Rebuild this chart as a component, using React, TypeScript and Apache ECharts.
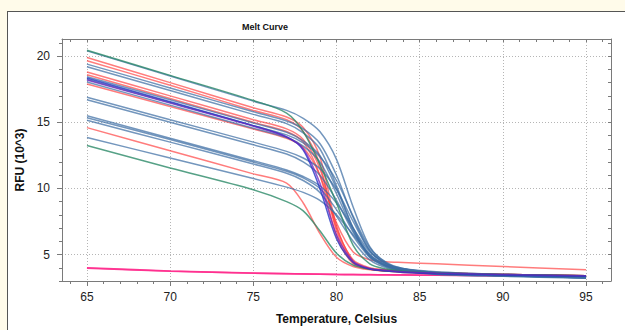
import React, { useEffect, useRef } from "react";
import * as echarts from "echarts";

// Temperatures (°C) at which each curve is sampled
const temps = [65, 70, 75, 77, 78, 79, 80, 81, 82, 83, 84, 86, 90, 95];

// Axis ticks
const xMajorTicks = [65, 70, 75, 80, 85, 90, 95];
const xMinorTicks = [64, 65, 66, 67, 68, 69, 70, 71, 72, 73, 74, 75, 76, 77, 78, 79, 80, 81, 82, 83, 84, 85, 86, 87, 88, 89, 90, 91, 92, 93, 94, 95, 96];
const yMajorTicks = [5, 10, 15, 20];
const yMinorTicks = [3, 4, 5, 6, 7, 8, 9, 10, 11, 12, 13, 14, 15, 16, 17, 18, 19, 20, 21];

// RFU (10^3) values per well
const pink1 = [4.0, 3.76, 3.6, 3.56, 3.54, 3.52, 3.5, 3.49, 3.48, 3.47, 3.46, 3.44, 3.4, 3.35];
const pink2 = [3.96, 3.74, 3.59, 3.55, 3.53, 3.51, 3.49, 3.48, 3.47, 3.46, 3.45, 3.43, 3.39, 3.33];

const red1 = [19.9, 18.0, 16.1, 15.4, 14.6, 12.4, 7.2, 4.5, 3.95, 3.8, 3.7, 3.6, 3.5, 3.4];
const red2 = [19.65, 17.8, 15.9, 15.2, 14.3, 11.8, 6.8, 4.4, 3.9, 3.75, 3.65, 3.55, 3.45, 3.35];
const red3 = [18.8, 17.0, 15.2, 14.5, 13.7, 11.5, 7.0, 4.6, 4.0, 3.85, 3.75, 3.65, 3.5, 3.4];
const red4 = [18.6, 16.8, 15.0, 14.3, 13.5, 11.0, 6.4, 4.3, 3.9, 3.8, 3.7, 3.6, 3.5, 3.4];
const red5 = [17.9, 16.2, 14.5, 13.8, 13.1, 11.0, 7.4, 5.2, 4.6, 4.45, 4.4, 4.3, 4.1, 3.85];
const red6 = [14.6, 12.85, 11.1, 10.4, 8.9, 6.6, 4.8, 4.1, 3.85, 3.75, 3.7, 3.6, 3.5, 3.4];

const blue1 = [20.4, 18.5, 16.6, 15.9, 15.3, 14.3, 12.2, 8.6, 5.6, 4.35, 3.95, 3.7, 3.5, 3.35];
const blue2 = [19.4, 17.6, 15.8, 15.1, 14.5, 13.4, 11.0, 7.8, 5.3, 4.3, 3.9, 3.65, 3.45, 3.3];
const blue3 = [19.2, 17.4, 15.6, 14.9, 14.2, 13.0, 10.2, 7.0, 4.9, 4.15, 3.85, 3.6, 3.4, 3.25];
const blue4 = [18.45, 16.7, 14.95, 14.25, 13.6, 12.5, 10.0, 7.0, 5.0, 4.2, 3.85, 3.6, 3.4, 3.25];
const blue5 = [18.25, 16.5, 14.75, 14.05, 13.45, 12.4, 10.6, 7.9, 5.5, 4.4, 3.95, 3.65, 3.45, 3.3];
const blue6 = [18.05, 16.3, 14.55, 13.85, 13.2, 12.0, 9.6, 6.8, 4.8, 4.1, 3.8, 3.55, 3.4, 3.25];
const blue7 = [16.9, 15.2, 13.5, 12.8, 12.3, 11.5, 9.9, 7.5, 5.3, 4.3, 3.9, 3.6, 3.45, 3.3];
const blue8 = [16.7, 15.0, 13.3, 12.6, 12.0, 11.0, 9.1, 6.7, 4.9, 4.15, 3.8, 3.55, 3.4, 3.25];
const blue9 = [15.5, 13.8, 12.1, 11.4, 10.9, 10.2, 8.9, 7.0, 5.2, 4.3, 3.9, 3.6, 3.45, 3.3];
const blue10 = [15.35, 13.7, 12.0, 11.3, 10.8, 10.0, 8.4, 6.4, 4.8, 4.1, 3.8, 3.55, 3.4, 3.25];
const blue11 = [15.15, 13.5, 11.85, 11.15, 10.6, 9.7, 7.9, 6.0, 4.6, 4.0, 3.75, 3.5, 3.35, 3.2];
const blue12 = [13.85, 12.3, 10.75, 10.1, 9.7, 9.1, 8.0, 6.5, 5.0, 4.2, 3.85, 3.6, 3.45, 3.3];

const teal1 = [20.45, 18.55, 16.65, 15.7, 14.3, 11.8, 8.9, 5.7, 4.3, 3.9, 3.75, 3.6, 3.5, 3.4];
const teal2 = [13.24, 11.55, 9.9, 9.0, 8.3, 6.8, 5.1, 4.2, 3.9, 3.75, 3.7, 3.6, 3.5, 3.4];

const darkBlue1 = [18.35, 16.55, 14.75, 13.9, 12.9, 10.0, 6.2, 4.4, 3.9, 3.75, 3.65, 3.55, 3.45, 3.35];
const purple1 = [18.2, 16.45, 14.7, 13.9, 13.0, 10.4, 6.5, 4.5, 3.95, 3.8, 3.7, 3.6, 3.5, 3.4];

const wells: { values: number[]; kind: string }[] = [
  { values: pink1, kind: "pink" },
  { values: pink2, kind: "pink" },
  { values: red1, kind: "red" },
  { values: red2, kind: "red" },
  { values: red3, kind: "red" },
  { values: red4, kind: "red" },
  { values: red5, kind: "red" },
  { values: red6, kind: "red" },
  { values: blue1, kind: "blue" },
  { values: blue2, kind: "blue" },
  { values: blue3, kind: "blue" },
  { values: blue4, kind: "blue" },
  { values: blue5, kind: "blue" },
  { values: blue6, kind: "blue" },
  { values: blue7, kind: "blue" },
  { values: blue8, kind: "blue" },
  { values: blue9, kind: "blue" },
  { values: blue10, kind: "blue" },
  { values: blue11, kind: "blue" },
  { values: blue12, kind: "blue" },
  { values: teal1, kind: "teal" },
  { values: teal2, kind: "teal" },
  { values: darkBlue1, kind: "darkBlue" },
  { values: purple1, kind: "purple" },
];

const kindStyle: Record<string, { color: string; opacity: number; width: number }> = {
  pink: { color: "#ff2f8e", opacity: 0.9, width: 1.6 },
  red: { color: "#ff3535", opacity: 0.65, width: 1.5 },
  blue: { color: "#3d6da3", opacity: 0.72, width: 1.5 },
  teal: { color: "#2c8a68", opacity: 0.8, width: 1.5 },
  darkBlue: { color: "#2436c4", opacity: 0.8, width: 1.5 },
  purple: { color: "#6a22c0", opacity: 0.75, width: 1.5 },
};

const FONT = '"Liberation Sans", Arial, sans-serif';
const AXIS_COLOR = "#7a7a7a";

export default function App() {
  const ref = useRef<HTMLDivElement>(null);

  useEffect(() => {
    if (!ref.current) return;
    const chart = echarts.init(ref.current, undefined, { renderer: "svg" });

    const series = wells.map((w) => {
      const st = kindStyle[w.kind];
      return {
        type: "line",
        xAxisIndex: 0,
        yAxisIndex: 0,
        data: temps.map((t, i) => [t, w.values[i]]),
        showSymbol: false,
        symbol: "none",
        smooth: 0.3,
        silent: true,
        emphasis: { disabled: true },
        lineStyle: { color: st.color, opacity: st.opacity, width: st.width },
      };
    });

    const hiddenLabel = { show: false };
    const noSplit = { show: false };

    chart.setOption({
      animation: false,
      backgroundColor: "transparent",
      textStyle: { fontFamily: FONT },
      graphic: [
        {
          type: "text",
          x: 265,
          y: 27,
          style: {
            text: "Melt Curve",
            font: `bold 9px ${FONT}`,
            fill: "#111",
            textAlign: "center",
            textVerticalAlign: "middle",
          },
        },
      ],
      grid: { left: 62, right: 14, top: 39, bottom: 45 },
      xAxis: [
        {
          type: "value",
          position: "bottom",
          min: 63.5,
          max: 96.5,
          name: "Temperature, Celsius",
          nameLocation: "middle",
          nameGap: 32,
          nameTextStyle: { fontWeight: "bold", fontSize: 12, color: "#111", fontFamily: FONT },
          axisLine: { show: true, onZero: false, lineStyle: { color: AXIS_COLOR, width: 1 } },
          axisTick: { show: true, inside: false, length: 5, customValues: xMajorTicks, lineStyle: { color: AXIS_COLOR } },
          axisLabel: { show: true, customValues: xMajorTicks, fontSize: 12, color: "#222", margin: 10, fontFamily: FONT },
          splitLine: { show: true, lineStyle: { color: "#b5b5b5", type: [1, 2], width: 1 } },
        },
        {
          type: "value",
          position: "bottom",
          min: 63.5,
          max: 96.5,
          axisLine: { show: false, onZero: false },
          axisTick: { show: true, inside: false, length: 3, customValues: xMinorTicks, lineStyle: { color: AXIS_COLOR } },
          axisLabel: hiddenLabel,
          splitLine: noSplit,
        },
        {
          type: "value",
          position: "top",
          min: 63.5,
          max: 96.5,
          axisLine: { show: true, onZero: false, lineStyle: { color: AXIS_COLOR, width: 1 } },
          axisTick: { show: true, inside: true, length: 3, customValues: xMinorTicks, lineStyle: { color: AXIS_COLOR } },
          axisLabel: hiddenLabel,
          splitLine: noSplit,
        },
      ],
      yAxis: [
        {
          type: "value",
          position: "left",
          min: 3,
          max: 21.3,
          name: "RFU (10^3)",
          nameLocation: "middle",
          nameGap: 33,
          nameTextStyle: { fontWeight: "bold", fontSize: 12, color: "#111", fontFamily: FONT },
          axisLine: { show: true, onZero: false, lineStyle: { color: AXIS_COLOR, width: 1 } },
          axisTick: { show: true, inside: false, length: 5, customValues: yMajorTicks, lineStyle: { color: AXIS_COLOR } },
          axisLabel: { show: true, customValues: yMajorTicks, fontSize: 12, color: "#222", margin: 12, fontFamily: FONT },
          splitLine: { show: true, lineStyle: { color: "#b5b5b5", type: [1, 2], width: 1 } },
        },
        {
          type: "value",
          position: "left",
          min: 3,
          max: 21.3,
          axisLine: { show: false, onZero: false },
          axisTick: { show: true, inside: false, length: 3, customValues: yMinorTicks, lineStyle: { color: AXIS_COLOR } },
          axisLabel: hiddenLabel,
          splitLine: noSplit,
        },
        {
          type: "value",
          position: "right",
          min: 3,
          max: 21.3,
          axisLine: { show: true, onZero: false, lineStyle: { color: AXIS_COLOR, width: 1 } },
          axisTick: { show: true, inside: true, length: 3, customValues: yMinorTicks, lineStyle: { color: AXIS_COLOR } },
          axisLabel: hiddenLabel,
          splitLine: noSplit,
        },
      ],
      series,
    });

    return () => {
      chart.dispose();
    };
  }, []);

  return (
    <div
      style={{
        position: "fixed",
        left: 0,
        top: 0,
        width: 625,
        height: 330,
        overflow: "hidden",
        background: "#fffbea",
      }}
    >
      <div
        style={{
          position: "absolute",
          left: 7,
          top: 11,
          width: 700,
          height: 400,
          background: "#ffffff",
          border: "1px solid #555",
          boxSizing: "border-box",
        }}
      />
      <div ref={ref} style={{ position: "absolute", left: 0, top: 0, width: 625, height: 330 }} />
    </div>
  );
}
